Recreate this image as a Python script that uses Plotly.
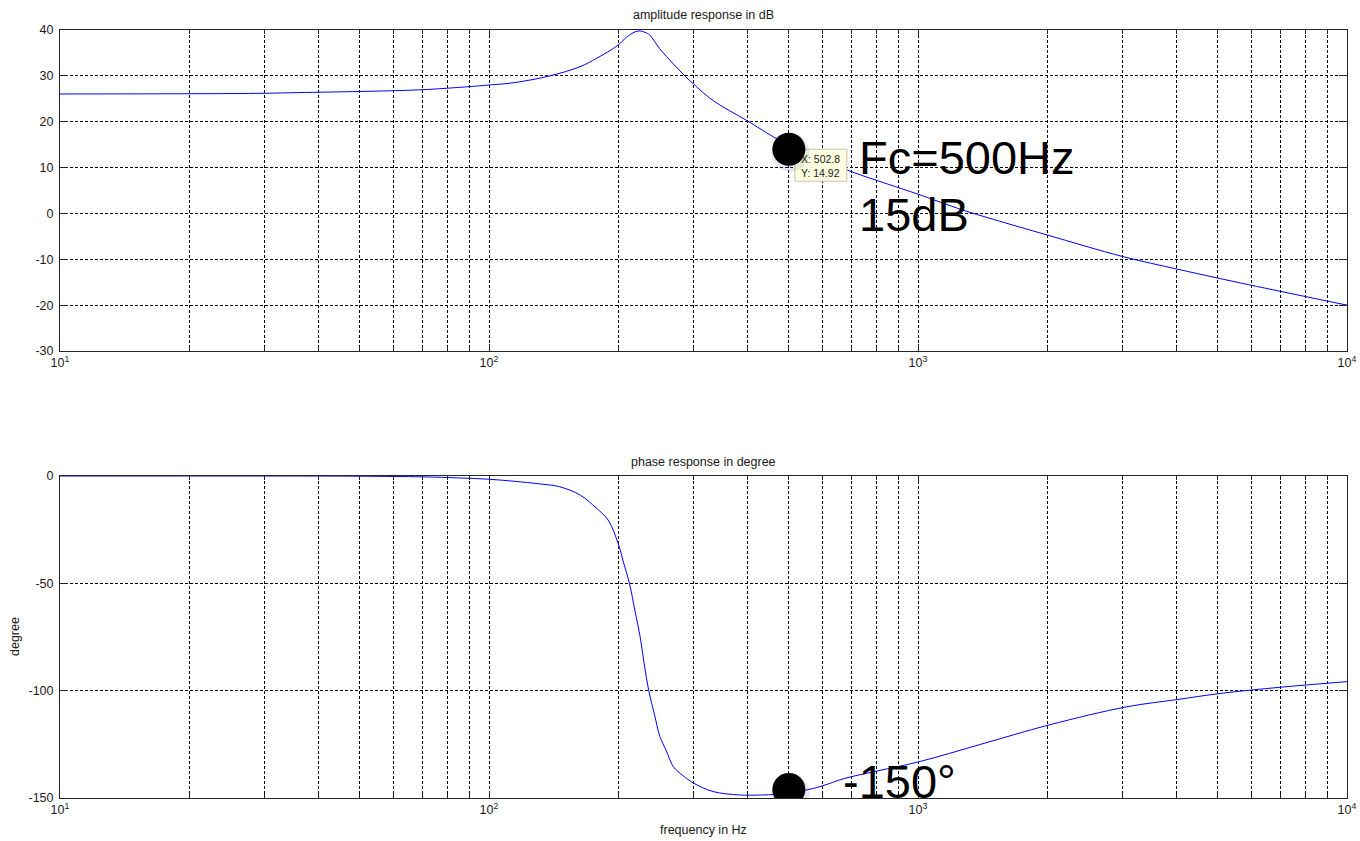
import math
import plotly.graph_objects as go

# ---------------- data ----------------
amp_freq = [10, 20, 30, 36, 50, 69, 90, 100, 114, 138, 163, 178, 200, 209, 219, 225,
            231, 237, 250, 269, 286, 300, 333, 400, 468, 500, 600, 700, 850, 1000,
            1266, 1500, 2000, 3000, 4000, 5000, 7000, 10000]
amp_db = [26.05, 26.1, 26.2, 26.35, 26.6, 26.95, 27.65, 28.0, 28.5, 29.95, 32.0, 33.8,
          36.7, 38.4, 39.6, 39.8, 39.5, 38.9, 35.9, 32.6, 30.0, 28.2, 24.6, 20.2,
          16.3, 14.92, 11.7, 9.1, 6.4, 4.2, 0.8, -1.3, -4.7, -9.4, -12.1, -14.1,
          -17.0, -20.0]

phase_freq = [10, 30, 50, 70, 85, 100, 115, 131.5, 146, 163, 178, 189.5, 200, 206,
              212.5, 219, 225, 230, 235.7, 243, 250.3, 259, 269, 283, 300, 333, 385,
              430, 466, 500, 548, 600, 671, 800, 1011, 1400, 2018, 3069, 4000, 5110,
              7000, 10000]
phase_deg = [0, 0, -0.1, -0.4, -0.9, -1.5, -2.5, -3.7, -5.0, -8.85, -15, -20.5, -31.4,
             -40.5, -50, -63, -74.8, -87.5, -100, -111, -121.4, -128, -135.4, -139.5,
             -143.1, -147.0, -148.6, -148.6, -148.3, -147.5, -146.3, -144.3, -141,
             -137.5, -133, -125, -116, -107.5, -104.2, -101.2, -98.4, -95.8]

# highlighted points (big black dots)
dot_freq = [500, 500]
dot_vals = [14.0, -146.0]
tip_x, tip_y = "502.8", "14.92"

x_major = [10, 100, 1000, 10000]
x_major_text = ["10<sup>1</sup>", "10<sup>2</sup>", "10<sup>3</sup>", "10<sup>4</sup>"]
x_minor = [m * d for d in (10, 100, 1000) for m in range(2, 10)]
amp_ticks = [-30, -20, -10, 0, 10, 20, 30, 40]
phase_ticks = [-150, -100, -50, 0]

# ---------------- figure ----------------
FONT = "Liberation Sans, Arial, Helvetica, sans-serif"
LINE = "#0000ff"
AX = "#262626"
GRID = dict(showgrid=True, gridcolor="black", gridwidth=1, griddash="3px,2px")

fig = go.Figure()
fig.add_trace(go.Scatter(x=amp_freq, y=amp_db, mode="lines", xaxis="x", yaxis="y",
                         line=dict(color=LINE, width=1, shape="spline", smoothing=1.0),
                         showlegend=False, hoverinfo="skip"))
fig.add_trace(go.Scatter(x=phase_freq, y=phase_deg, mode="lines", xaxis="x2", yaxis="y2",
                         line=dict(color=LINE, width=1, shape="spline", smoothing=1.0),
                         showlegend=False, hoverinfo="skip"))


def xaxis_cfg(anchor):
    return dict(type="log", range=[1, 4], domain=[0, 1], anchor=anchor, automargin=False,
                tickmode="array", tickvals=x_major, ticktext=x_major_text,
                ticks="inside", ticklen=7, tickcolor=AX,
                showline=True, linecolor=AX, linewidth=1, mirror="ticks",
                zeroline=False,
                tickfont=dict(family=FONT, size=12.5, color="#1a1a1a"),
                minor=dict(tickmode="array", tickvals=x_minor, ticks="inside",
                           ticklen=4, tickcolor=AX, **GRID),
                **GRID)


def yaxis_cfg(anchor, dom, rng, vals):
    return dict(domain=dom, range=rng, anchor=anchor, automargin=False,
                tickmode="array", tickvals=vals, ticktext=[str(v) for v in vals],
                ticks="inside", ticklen=8, tickcolor=AX, ticklabelstandoff=3,
                showline=True, linecolor=AX, linewidth=1, mirror="ticks",
                zeroline=False,
                tickfont=dict(family=FONT, size=12.5, color="#1a1a1a"),
                **GRID)


H_PLOT = 768.0  # plot area height in px (841 - 30 - 43)


def py(px):  # pixel row -> paper y
    return (798 - px) / H_PLOT


def pxx(px):  # pixel column -> paper x
    return (px - 60) / 1287.0


fig.update_layout(
    width=1360, height=841, autosize=False,
    margin=dict(l=60, r=13, t=30, b=43, autoexpand=False),
    paper_bgcolor="white", plot_bgcolor="white",
    font=dict(family=FONT, color="#1a1a1a"),
    xaxis=xaxis_cfg("y"),
    yaxis=yaxis_cfg("x", [py(351), 1], [-30, 40], amp_ticks),
    xaxis2=xaxis_cfg("y2"),
    yaxis2=yaxis_cfg("x2", [0, py(476)], [-150, 0], phase_ticks),
)


def circle_path(r, dx=0.0, dy=0.0):
    k = 0.5523 * r
    pts = lambda x, y: f"{x + dx:.2f},{y + dy:.2f}"
    return (f"M {pts(r, 0)} C {pts(r, k)} {pts(k, r)} {pts(0, r)} "
            f"C {pts(-k, r)} {pts(-r, k)} {pts(-r, 0)} "
            f"C {pts(-r, -k)} {pts(-k, -r)} {pts(0, -r)} "
            f"C {pts(k, -r)} {pts(r, -k)} {pts(r, 0)} Z")


# datatip box, shadows and dots as pixel-sized shapes anchored to data
shapes = []
shapes.append(dict(type="rect", xref="x", yref="y", xsizemode="pixel", ysizemode="pixel",
                   xanchor=dot_freq[0], yanchor=dot_vals[0], x0=6, x1=58, y0=-32, y1=0,
                   fillcolor="#ffffe1", line=dict(color="#c4c4b0", width=1), layer="above"))
for (xr, yr, f, v) in (("x", "y", dot_freq[0], dot_vals[0]), ("x2", "y2", dot_freq[1], dot_vals[1])):
    shapes.append(dict(type="path", xref=xr, yref=yr, xsizemode="pixel", ysizemode="pixel",
                       xanchor=f, yanchor=v, path=circle_path(19, 1.5, -3.5),
                       fillcolor="rgba(90,110,150,0.16)", line=dict(width=0), layer="above"))
    shapes.append(dict(type="path", xref=xr, yref=yr, xsizemode="pixel", ysizemode="pixel",
                       xanchor=f, yanchor=v, path=circle_path(16.5),
                       fillcolor="black", line=dict(width=0), layer="above"))
fig.update_layout(shapes=shapes)

ann = []
# datatip text
ann.append(dict(xref="x", yref="y", x=math.log10(dot_freq[0]), y=dot_vals[0],
                xanchor="left", yanchor="top", xshift=10, yshift=-2, showarrow=False,
                align="left", text=f"X: {tip_x}<br>Y: {tip_y}",
                font=dict(family=FONT, size=10.5, color="#222222")))
# titles
ann.append(dict(xref="paper", yref="paper", x=0.5, y=py(15), xanchor="center", yanchor="middle",
                showarrow=False, text="amplitude response in dB",
                font=dict(family=FONT, size=12.5, color="#1a1a1a")))
ann.append(dict(xref="paper", yref="paper", x=0.5, y=py(462), xanchor="center", yanchor="middle",
                showarrow=False, text="phase response in degree",
                font=dict(family=FONT, size=12.5, color="#1a1a1a")))
ann.append(dict(xref="paper", yref="paper", x=0.5, y=py(830), xanchor="center", yanchor="middle",
                showarrow=False, text="frequency in Hz",
                font=dict(family=FONT, size=12.5, color="#1a1a1a")))
ann.append(dict(xref="paper", yref="paper", x=pxx(15), y=py(637), xanchor="center", yanchor="middle",
                showarrow=False, text="degree", textangle=-90,
                font=dict(family=FONT, size=12.5, color="#1a1a1a")))
# big labels
BIG = dict(family=FONT, size=47, color="black")
ann.append(dict(xref="paper", yref="paper", x=pxx(857), y=py(157), xanchor="left", yanchor="middle",
                showarrow=False, text="Fc=500Hz", font=BIG))
ann.append(dict(xref="paper", yref="paper", x=pxx(857), y=py(215), xanchor="left", yanchor="middle",
                showarrow=False, text="15dB", font=BIG))
ann.append(dict(xref="paper", yref="paper", x=pxx(841), y=py(781), xanchor="left", yanchor="middle",
                showarrow=False, text="-150°", font=BIG))
fig.update_layout(annotations=ann)

fig.write_html("out.html", config={"displayModeBar": False},
               post_script="document.body.style.margin='0';")
